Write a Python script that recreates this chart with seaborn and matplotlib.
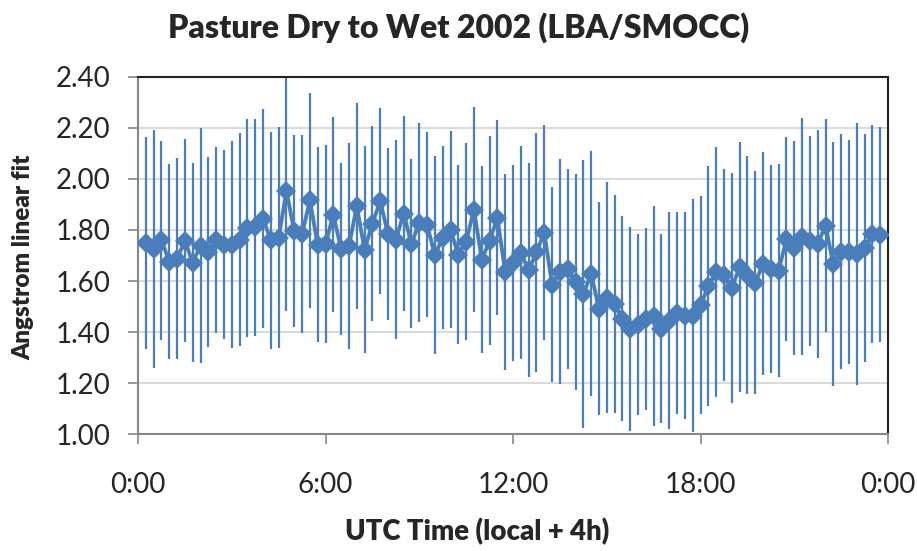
import numpy as np
import pandas as pd
import matplotlib
matplotlib.use("Agg")
import matplotlib.pyplot as plt
import seaborn as sns

# 15-minute averages, 0:15 to 23:45 UTC
hours = np.arange(0.25, 24.0, 0.25)

angstrom = [
    1.750, 1.725, 1.760, 1.676, 1.688, 1.758, 1.672, 1.739, 1.713, 1.760,
    1.742, 1.742, 1.762, 1.808, 1.810, 1.845, 1.760, 1.770, 1.953, 1.795,
    1.784, 1.916, 1.742, 1.744, 1.860, 1.724, 1.737, 1.893, 1.723, 1.825,
    1.913, 1.784, 1.762, 1.864, 1.746, 1.829, 1.821, 1.701, 1.770, 1.801,
    1.703, 1.754, 1.880, 1.684, 1.758, 1.848, 1.635, 1.670, 1.711, 1.642,
    1.712, 1.790, 1.586, 1.637, 1.646, 1.595, 1.548, 1.629, 1.491, 1.535,
    1.509, 1.452, 1.411, 1.429, 1.450, 1.462, 1.413, 1.444, 1.474, 1.464,
    1.464, 1.505, 1.580, 1.635, 1.623, 1.572, 1.654, 1.623, 1.593, 1.668,
    1.646, 1.641, 1.764, 1.729, 1.774, 1.756, 1.746, 1.817, 1.666, 1.715,
    1.713, 1.705, 1.729, 1.784, 1.782,
]

std_dev = [
    0.415, 0.466, 0.390, 0.382, 0.393, 0.397, 0.390, 0.460, 0.372, 0.364,
    0.370, 0.405, 0.418, 0.427, 0.425, 0.429, 0.425, 0.433, 0.471, 0.376,
    0.388, 0.422, 0.382, 0.388, 0.382, 0.337, 0.403, 0.403, 0.405, 0.382,
    0.364, 0.337, 0.390, 0.382, 0.331, 0.390, 0.362, 0.388, 0.358, 0.386,
    0.350, 0.386, 0.401, 0.366, 0.409, 0.382, 0.383, 0.384, 0.417, 0.419,
    0.469, 0.422, 0.382, 0.441, 0.392, 0.423, 0.525, 0.480, 0.417, 0.452,
    0.427, 0.401, 0.399, 0.354, 0.356, 0.431, 0.370, 0.425, 0.395, 0.405,
    0.456, 0.427, 0.470, 0.490, 0.415, 0.450, 0.490, 0.466, 0.437, 0.437,
    0.407, 0.417, 0.399, 0.419, 0.464, 0.411, 0.448, 0.417, 0.478, 0.460,
    0.439, 0.513, 0.446, 0.427, 0.421,
]

tick_hours = [0, 6, 12, 18, 24]
tick_labels = ["0:00", "6:00", "12:00", "18:00", "0:00"]

df = pd.DataFrame({"hour": hours, "angstrom": angstrom, "std": std_dev})

sns.set_style("white")
plt.rcParams["font.family"] = ["Lato", "DejaVu Sans"]

blue = "#4A7EBB"

fig = plt.figure(figsize=(9.17, 5.51), dpi=100)
ax = fig.add_axes([0.1505, 0.2123, 0.8179, 0.648])

ax.errorbar(df["hour"], df["angstrom"], yerr=df["std"], fmt="none",
            ecolor=blue, elinewidth=1.6, capsize=0, zorder=2)
sns.lineplot(data=df, x="hour", y="angstrom", ax=ax, color=blue,
             linewidth=2.8, marker="D", markersize=10.5, markeredgewidth=0,
             zorder=3)

ax.set_xlim(0, 24)
ax.set_ylim(1.0, 2.4)
ax.set_xticks(tick_hours)
ax.set_xticklabels(tick_labels)
ax.set_yticks(np.arange(1.0, 2.41, 0.2))
ax.yaxis.set_major_formatter(matplotlib.ticker.FormatStrFormatter("%.2f"))
ax.yaxis.grid(True, color="#d9d9d9", linewidth=1.4)
ax.set_axisbelow(True)

ax.tick_params(axis="both", labelsize=20, length=7, width=1.2,
               color="#868686", direction="out")
ax.tick_params(axis="y", pad=13)
ax.tick_params(axis="x", pad=20)
ax.tick_params(left=True, bottom=True)

for side in ["left", "bottom"]:
    ax.spines[side].set_color("#868686")
    ax.spines[side].set_linewidth(1.5)
for side in ["top", "right"]:
    ax.spines[side].set_color("#222222")
    ax.spines[side].set_linewidth(1.5)

ax.set_xlabel("")
ax.set_ylabel("")
fig.text(0.5, 1 - 28 / 551, "Pasture Dry to Wet 2002 (LBA/SMOCC)",
         fontsize=23, fontweight="heavy", ha="center", va="center")
fig.text(477 / 917, 1 - 532 / 551, "UTC Time (local + 4h)", fontsize=19.8,
         fontweight="heavy", ha="center", va="center")
fig.text(23 / 917, 1 - 257 / 551, "Angstrom linear fit", fontsize=17.5,
         fontweight="heavy", ha="center", va="center", rotation=90)

fig.savefig("out.png", dpi=100)
